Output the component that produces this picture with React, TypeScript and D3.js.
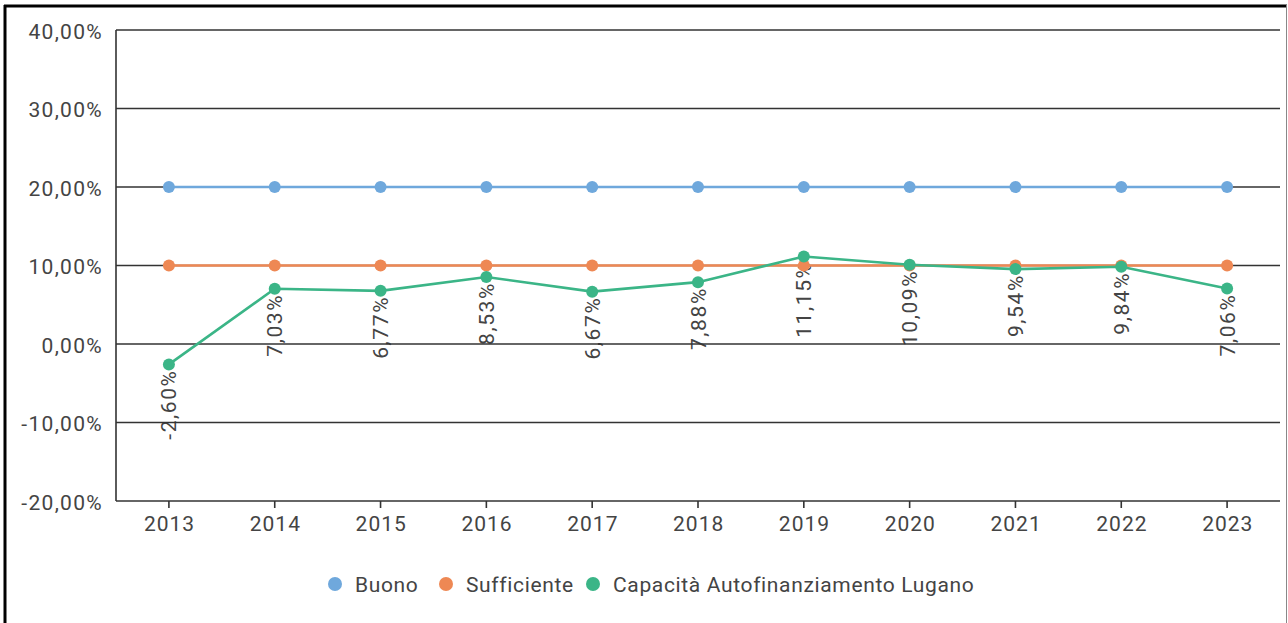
import React from "react";
import * as d3 from "d3";

const years = ["2013","2014","2015","2016","2017","2018","2019","2020","2021","2022","2023"];
const buono = [20,20,20,20,20,20,20,20,20,20,20];
const sufficiente = [10,10,10,10,10,10,10,10,10,10,10];
const lugano = [-2.60,7.03,6.77,8.53,6.67,7.88,11.15,10.09,9.54,9.84,7.06];
const yTicks = [-20,-10,0,10,20,30,40];
const seriesNames = ["Buono","Sufficiente","Capacità Autofinanziamento Lugano"];
const seriesColors = ["#6fa8dc","#ee8854","#3bb587"];

const W = 1288, H = 623;
const left = 116, right = 1280, top = 30, bottom = 501;
const font = "Roboto, 'Liberation Sans', Arial, sans-serif";
const fs = 21;
const ls = 1.3;
const fmt = (v: number) => v.toFixed(2).replace(".", ",") + "%";

export default function App() {
  const x = d3.scaleBand<string>().domain(years).range([left, right]).padding(0);
  const y = d3.scaleLinear().domain([-20, 40]).range([bottom, top]);
  const cx = (yr: string) => (x(yr) as number) + x.bandwidth() / 2;
  const line = d3.line<number>().x((_, i) => cx(years[i])).y((d) => y(d));
  const all = [buono, sufficiente, lugano];
  const legendX = [335, 446, 593];
  return (
    <svg width={W} height={H} style={{ position: "absolute", left: 0, top: 0, background: "#fff" }} fontFamily={font}>
      <rect x={0} y={0} width={W} height={H} fill="#fff" />
      {/* frame */}
      <line x1={5} y1={5} x2={5} y2={H} stroke="#000" strokeWidth={3} />
      <line x1={4} y1={6} x2={1287} y2={6} stroke="#000" strokeWidth={3} />
      <line x1={1286.5} y1={5} x2={1286.5} y2={H} stroke="#888" strokeWidth={1} />
      {/* data labels */}
      {lugano.map((v, i) => {
        const px = cx(years[i]);
        const py = y(v) + 5;
        return (
          <text key={"l" + i} transform={`translate(${px + 7.5},${py}) rotate(-90)`} textAnchor="end"
            fontSize={fs} letterSpacing={1.6} fill="#444">{fmt(v)}</text>
        );
      })}
      {/* gridlines */}
      {yTicks.map((t) => (
        <g key={t}>
          <line x1={left} x2={right} y1={y(t)} y2={y(t)} stroke="#333" strokeWidth={1.6} />
          <text x={103} y={y(t) + 8.5} textAnchor="end" fontSize={fs} letterSpacing={ls} fill="#444">{fmt(t)}</text>
        </g>
      ))}
      <line x1={left} x2={left} y1={top} y2={bottom} stroke="#333" strokeWidth={1.6} />
      {years.map((yr) => (
        <g key={yr}>
          <line x1={cx(yr)} x2={cx(yr)} y1={bottom} y2={bottom + 7} stroke="#333" strokeWidth={1.6} />
          <text x={cx(yr) + ls / 2} y={bottom + 30} textAnchor="middle" fontSize={fs} letterSpacing={1} fill="#444">{yr}</text>
        </g>
      ))}
      {/* series */}
      {all.map((s, si) => (
        <g key={si}>
          <path d={line(s) || ""} fill="none" stroke={seriesColors[si]} strokeWidth={2.6} />
          {s.map((v, i) => (
            <circle key={i} cx={cx(years[i])} cy={y(v)} r={6} fill={seriesColors[si]} />
          ))}
        </g>
      ))}
      {/* legend */}
      {seriesNames.map((n, i) => (
        <g key={n}>
          <circle cx={legendX[i]} cy={584} r={7} fill={seriesColors[i]} />
          <text x={legendX[i] + 20} y={592} fontSize={fs} letterSpacing={0.65} fill="#444">{n}</text>
        </g>
      ))}
    </svg>
  );
}
